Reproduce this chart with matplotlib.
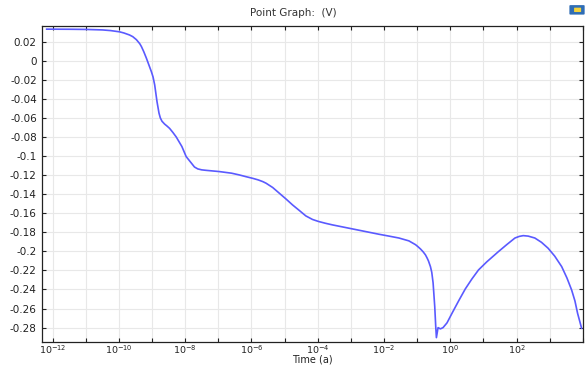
import numpy as np
import matplotlib
matplotlib.use("Agg")
import matplotlib.pyplot as plt
from matplotlib.patches import FancyBboxPatch

# Data (time exponent log10(t/a), potential V)
log_time = [-12.18, -11.5, -10.98, -10.5, -10.25, -9.98, -9.85, -9.68, -9.58, -9.47,
            -9.37, -9.32, -9.25, -9.17, -9.1, -9.02, -8.97, -8.92, -8.85, -8.79,
            -8.75, -8.70, -8.62, -8.55, -8.47, -8.37, -8.27, -8.10, -7.97, -7.80,
            -7.72, -7.62, -7.50, -7.37, -6.97, -6.6, -6.37, -6.17, -5.95, -5.8,
            -5.66, -5.56, -5.36, -5.16, -4.96, -4.76, -4.56, -4.36, -4.16, -4.05,
            -3.96, -3.76, -3.56, -3.16, -2.66, -2.16, -1.85, -1.55, -1.4, -1.25,
            -1.15, -1.05, -0.98, -0.9, -0.82, -0.75, -0.7, -0.66, -0.6, -0.56,
            -0.52, -0.47, -0.44, -0.42, -0.37, -0.30, -0.22, -0.1, 0.05, 0.25,
            0.45, 0.65, 0.85, 1.1, 1.45, 1.7, 1.95, 2.08, 2.2, 2.35,
            2.55, 2.75, 2.95, 3.15, 3.36, 3.52, 3.66, 3.76, 3.84, 3.91, 3.96]
potential = [0.0331, 0.0330, 0.0328, 0.0323, 0.0316, 0.0303, 0.0291, 0.0270, 0.0252, 0.0220,
             0.0178, 0.0148, 0.0095, 0.0026, -0.004, -0.0115, -0.017, -0.0254, -0.043, -0.055,
             -0.060, -0.0635, -0.0665, -0.0685, -0.071, -0.0753, -0.080, -0.090, -0.1006, -0.108,
             -0.1115, -0.1135, -0.1145, -0.115, -0.1163, -0.118, -0.1198, -0.1216, -0.1235, -0.125,
             -0.1268, -0.1285, -0.133, -0.139, -0.145, -0.1513, -0.157, -0.1628, -0.1665, -0.1678,
             -0.1688, -0.1706, -0.1722, -0.175, -0.1785, -0.182, -0.184, -0.186, -0.1875, -0.189,
             -0.191, -0.193, -0.195, -0.1975, -0.2005, -0.2037, -0.207, -0.210, -0.216, -0.222,
             -0.233, -0.258, -0.279, -0.2905, -0.280, -0.2813, -0.280, -0.275, -0.265, -0.252,
             -0.2395, -0.229, -0.2195, -0.211, -0.2003, -0.193, -0.186, -0.1843, -0.1835, -0.1840,
             -0.186, -0.1905, -0.1967, -0.205, -0.216, -0.228, -0.2405, -0.252, -0.265, -0.274, -0.2806]

ytick_vals = [0.02, 0, -0.02, -0.04, -0.06, -0.08, -0.1, -0.12, -0.14, -0.16,
              -0.18, -0.2, -0.22, -0.24, -0.26, -0.28]
ytick_labels = ["0.02", "0", "-0.02", "-0.04", "-0.06", "-0.08", "-0.1", "-0.12", "-0.14",
                "-0.16", "-0.18", "-0.2", "-0.22", "-0.24", "-0.26", "-0.28"]
xlabel_exps = [-12, -10, -8, -6, -4, -2, 0, 2]

time = [10.0 ** e for e in log_time]

fig = plt.figure(figsize=(5.87, 3.65), dpi=100)
ax = fig.add_axes([0.071, 0.064, 0.922, 0.865])

ax.plot(time, potential, color="#5a5aff", lw=1.2)

ax.set_xscale("log")
ax.set_xlim(10 ** -12.33, 10 ** 4.0)
ax.set_ylim(-0.2947, 0.0365)

exps = list(range(-12, 5))
ax.set_xticks([10.0 ** e for e in exps])
ax.set_xticklabels([(r"$\mathdefault{10^{%d}}$" % e) if e in xlabel_exps else "" for e in exps])
ax.xaxis.set_minor_locator(matplotlib.ticker.NullLocator())
ax.set_yticks(ytick_vals)
ax.set_yticklabels(ytick_labels)

ax.tick_params(axis="both", direction="in", length=3, width=0.8, labelsize=7.5,
               colors="#222222", top=True, right=True)
ax.tick_params(axis="x", pad=1, labelsize=6.8)
ax.grid(True, color="#e8e8e8", lw=0.8)
ax.set_axisbelow(True)
for s in ax.spines.values():
    s.set_linewidth(0.9)
    s.set_color("#222222")

ax.set_xlabel("Time (a)", fontsize=7, color="#222222", va="center")
ax.xaxis.set_label_coords(0.5, -0.058)
fig.text(0.5, 0.965, "Point Graph:  (V)", ha="center", va="center", fontsize=7.5, color="#333333")

icon = FancyBboxPatch((0.972, 0.962), 0.022, 0.022, boxstyle="round,pad=0.002",
                      transform=fig.transFigure, facecolor="#2f6db5", edgecolor="none")
fig.patches.append(icon)
icon2 = FancyBboxPatch((0.979, 0.968), 0.01, 0.01, boxstyle="round,pad=0.001",
                       transform=fig.transFigure, facecolor="#f3d23a", edgecolor="none")
fig.patches.append(icon2)

fig.savefig("out.png", dpi=100)
